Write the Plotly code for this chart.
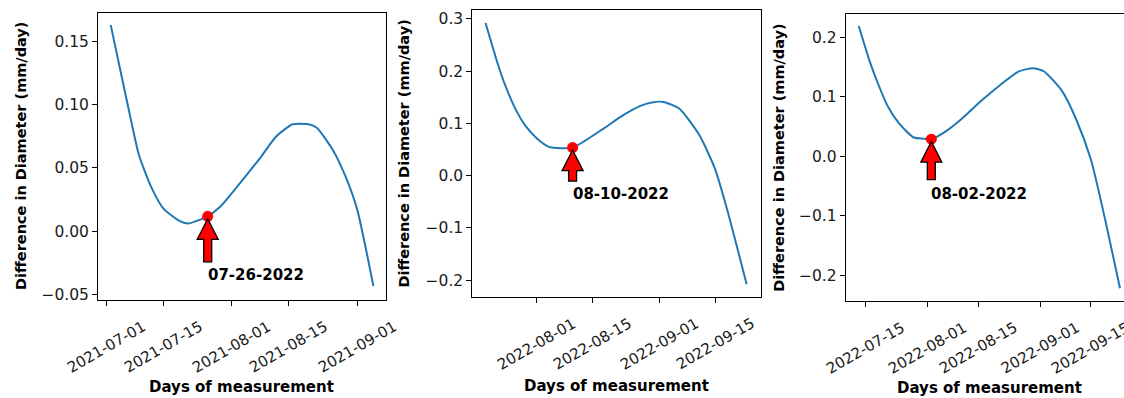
import plotly.graph_objects as go

# ---------------- data ----------------
dates_1 = ["2021-07-02", "2021-07-05", "2021-07-07", "2021-07-09", "2021-07-12",
           "2021-07-15", "2021-07-19", "2021-07-21", "2021-07-26", "2021-07-29",
           "2021-08-03", "2021-08-08", "2021-08-12", "2021-08-16", "2021-08-20",
           "2021-08-22", "2021-08-26", "2021-08-29", "2021-09-01", "2021-09-05"]
diff_1 = [0.163, 0.118, 0.088, 0.060, 0.035, 0.018, 0.008, 0.006, 0.0117, 0.019,
          0.038, 0.058, 0.075, 0.0845, 0.0846, 0.0818, 0.064, 0.044, 0.017, -0.0435]

dates_2 = ["2022-07-19", "2022-07-22", "2022-07-24", "2022-07-27", "2022-07-29",
           "2022-08-01", "2022-08-04", "2022-08-06", "2022-08-10", "2022-08-13",
           "2022-08-18", "2022-08-23", "2022-08-27", "2022-08-30", "2022-09-02",
           "2022-09-06", "2022-09-11", "2022-09-15", "2022-09-18", "2022-09-23"]
diff_2 = [0.292, 0.216, 0.172, 0.121, 0.096, 0.071, 0.055, 0.053, 0.0536, 0.066,
          0.091, 0.1165, 0.133, 0.140, 0.141, 0.128, 0.078, 0.013, -0.063, -0.208]

dates_3 = ["2022-07-13", "2022-07-16", "2022-07-18", "2022-07-21", "2022-07-24",
           "2022-07-28", "2022-07-30", "2022-08-02", "2022-08-06", "2022-08-10",
           "2022-08-16", "2022-08-21", "2022-08-26", "2022-08-30", "2022-09-02",
           "2022-09-07", "2022-09-11", "2022-09-15", "2022-09-19", "2022-09-23"]
diff_3 = [0.219, 0.160, 0.127, 0.084, 0.056, 0.032, 0.030, 0.0288, 0.042, 0.061,
          0.0945, 0.120, 0.1425, 0.148, 0.143, 0.110, 0.061, -0.006, -0.109, -0.222]

mark_dates = ["2021-07-26", "2022-08-10", "2022-08-02"]
mark_values = [0.0117, 0.0536, 0.0288]
mark_labels = ["07-26-2022", "08-10-2022", "08-02-2022"]

xtick_1 = ["2021-07-01", "2021-07-15", "2021-08-01", "2021-08-15", "2021-09-01"]
xtick_2 = ["2022-08-01", "2022-08-15", "2022-09-01", "2022-09-15"]
xtick_3 = ["2022-07-15", "2022-08-01", "2022-08-15", "2022-09-01", "2022-09-15"]

ytick_1 = [-0.05, 0.0, 0.05, 0.10, 0.15]
ytext_1 = ["\u22120.05", "0.00", "0.05", "0.10", "0.15"]
ytick_2 = [-0.2, -0.1, 0.0, 0.1, 0.2, 0.3]
ytext_2 = ["\u22120.2", "\u22120.1", "0.0", "0.1", "0.2", "0.3"]
ytick_3 = [-0.2, -0.1, 0.0, 0.1, 0.2]
ytext_3 = ["\u22120.2", "\u22120.1", "0.0", "0.1", "0.2"]

x_title = "Days of measurement"
y_title = "Difference in Diameter (mm/day)"

# ---------------- layout geometry (pixels) ----------------
W, H = 1124, 398
FONT = "DejaVu Sans"
TXT = "#1a1a1a"

panels = [
    dict(x=dates_1, y=diff_1, xt=xtick_1, yt=ytick_1, ytt=ytext_1,
         l=98, r=385.5, t=13, b=303,
         xr=["2021-06-28 20:24", "2021-09-08 00:00"], yr=[-0.0545, 0.1727],
         ylab_x=21.5, xlab_x=241.7, xlab_y=391, ymirror=True,
         arrow_len=45.5, text_drop=59),
    dict(x=dates_2, y=diff_2, xt=xtick_2, yt=ytick_2, ytt=ytext_2,
         l=472.3, r=760.5, t=10.3, b=300,
         xr=["2022-07-15 15:36", "2022-09-26 12:00"], yr=[-0.2322, 0.3165],
         ylab_x=404, xlab_x=616, xlab_y=389.5, ymirror=True,
         arrow_len=33.5, text_drop=46),
    dict(x=dates_3, y=diff_3, xt=xtick_3, yt=ytick_3, ytt=ytext_3,
         l=845.7, r=W, t=14.3, b=304.3,
         xr=["2022-07-09 09:50", "2022-09-24 02:24"], yr=[-0.2438, 0.239],
         ylab_x=779, xlab_x=989, xlab_y=391.5, ymirror=False,
         arrow_len=40.5, text_drop=54.7),
]


def px(x):
    return x / W


def py(y):
    return 1 - y / H


fig = go.Figure()
annotations = []
shapes = []
layout = dict(
    width=W, height=H,
    margin=dict(l=0, r=0, t=0, b=0, pad=0),
    paper_bgcolor="white", plot_bgcolor="white",
    showlegend=False,
    font=dict(family=FONT, color=TXT),
)

for i, p in enumerate(panels):
    n = "" if i == 0 else str(i + 1)
    xa, ya = "x" + n, "y" + n
    fig.add_trace(go.Scatter(x=p["x"], y=p["y"], mode="lines",
                             line=dict(color="#1f77b4", width=2, shape="spline",
                                       smoothing=0.6),
                             xaxis=xa, yaxis=ya, hoverinfo="skip"))
    fig.add_trace(go.Scatter(x=[mark_dates[i]], y=[mark_values[i]], mode="markers",
                             marker=dict(color="red", size=11),
                             xaxis=xa, yaxis=ya, hoverinfo="skip"))
    layout["xaxis" + n] = dict(
        domain=[px(p["l"]), min(1.0, px(p["r"]))], anchor=ya, type="date",
        range=p["xr"], showgrid=False, zeroline=False,
        showline=True, linecolor="black", linewidth=1, mirror=True,
        ticks="outside", ticklen=5, tickwidth=1, tickcolor="black",
        tickvals=p["xt"], showticklabels=False,
    )
    layout["yaxis" + n] = dict(
        domain=[py(p["b"]), py(p["t"])], anchor=xa,
        range=p["yr"], showgrid=False, zeroline=False,
        showline=True, linecolor="black", linewidth=1, mirror=p["ymirror"],
        ticks="outside", ticklen=5, tickwidth=1, tickcolor="black",
        tickvals=p["yt"], ticktext=p["ytt"],
        tickfont=dict(family=FONT, size=15.5, color=TXT),
    )
    # rotated x tick labels (centered on tick like matplotlib)
    for d in p["xt"]:
        annotations.append(dict(
            x=d, xref=xa, y=py(p["b"] + 15), yref="paper",
            text=d, showarrow=False, textangle=-30,
            xanchor="center", yanchor="top",
            font=dict(family=FONT, size=15, color=TXT)))
    # axis titles
    annotations.append(dict(
        x=px(p["xlab_x"]), xref="paper", y=py(p["xlab_y"]), yref="paper",
        text=x_title, showarrow=False, xanchor="center", yanchor="middle",
        font=dict(family=FONT, size=15, color="black", weight="bold")))
    annotations.append(dict(
        x=px(p["ylab_x"]), xref="paper", y=py((p["t"] + p["b"]) / 2), yref="paper",
        text=y_title, showarrow=False, textangle=-90,
        xanchor="center", yanchor="middle",
        font=dict(family=FONT, size=14.5, color="black", weight="bold")))
    # date label below the marked point
    annotations.append(dict(
        x=mark_dates[i], xref=xa, y=mark_values[i], yref=ya,
        text=mark_labels[i], showarrow=False, xanchor="left", yanchor="middle",
        xshift=-2, yshift=-p["text_drop"],
        font=dict(family=FONT, size=15, color="black", weight="bold")))
    # fat red arrow pointing at the marked point
    L = p["arrow_len"]
    path = ("M 0 -2.5 L 10.5 -23 L 4 -23 L 4 -{L} L -4 -{L} L -4 -23 L -10.5 -23 Z"
            .format(L=L))
    shapes.append(dict(
        type="path", path=path, xref=xa, yref=ya,
        xsizemode="pixel", ysizemode="pixel",
        xanchor=mark_dates[i], yanchor=mark_values[i],
        fillcolor="red", line=dict(color="black", width=1.3), layer="above"))

layout["annotations"] = annotations
layout["shapes"] = shapes
fig.update_layout(**layout)
fig.write_html("out.html")
